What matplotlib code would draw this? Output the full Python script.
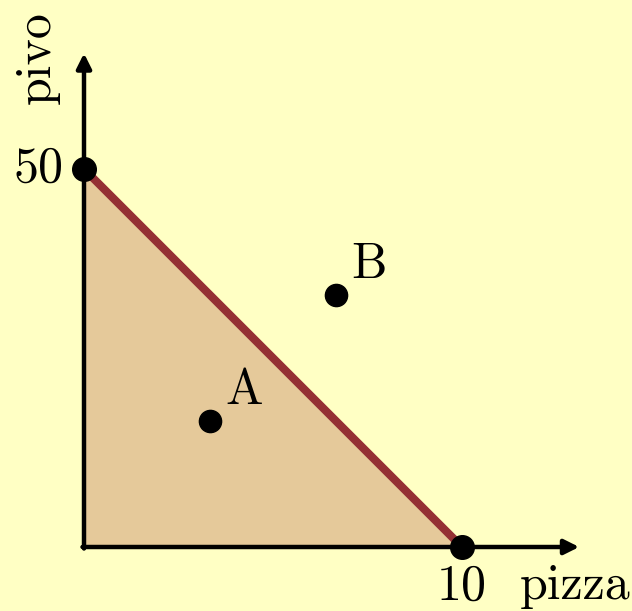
import matplotlib
matplotlib.use("Agg")
import matplotlib.pyplot as plt

# budget constraint data
max_pizza = 10
max_pivo = 50
point_labels = ["A", "B"]
point_x = [10 / 3, 20 / 3]
point_y = [50 / 3, 100 / 3]

bg = "#ffffc4"
fill_col = "#e5c99a"
line_col = "#943034"
font = "cmr10"
fs = 36

fig = plt.figure(figsize=(6.32, 6.11), dpi=100, facecolor=bg)
ax = fig.add_axes([0, 0, 1, 1])
ax.set_facecolor(bg)
ax.set_xlim(-84 / 37.8, (632 - 84) / 37.8)
ax.set_ylim((547 - 611) / 7.56, 547 / 7.56)
ax.axis("off")

# feasible area
ax.fill([0, 0, max_pizza], [0, max_pivo, 0], color=fill_col, zorder=1)

# axes with arrows
ax.annotate("", xy=(13.1, 0), xytext=(-0.04, 0),
            arrowprops=dict(arrowstyle="-|>", lw=3.2, color="black",
                            mutation_scale=22, shrinkA=0, shrinkB=0),
            zorder=3)
ax.annotate("", xy=(0, 65.3), xytext=(0, -0.2),
            arrowprops=dict(arrowstyle="-|>", lw=3.2, color="black",
                            mutation_scale=22, shrinkA=0, shrinkB=0),
            zorder=3)

# budget line
ax.plot([0, max_pizza], [max_pivo, 0], color=line_col, lw=5.8,
        solid_capstyle="butt", zorder=2)

# intercept dots and points
ax.plot([0, max_pizza], [max_pivo, 0], "o", color="black", ms=17, zorder=4)
ax.plot(point_x, point_y, "o", color="black", ms=16, zorder=4)

for lab, x, y in zip(point_labels, point_x, point_y):
    ax.text(x + 0.4, y + 0.9, lab, fontsize=fs, family=font,
            ha="left", va="bottom")

ax.text(-0.55, max_pivo, str(max_pivo), fontsize=fs, family=font,
        ha="right", va="center")
ax.text(max_pizza, -2.2, str(max_pizza), fontsize=fs, family=font,
        ha="center", va="top")
ax.text(14.45, -2.2, "pizza", fontsize=fs, family=font,
        ha="right", va="top")
ax.text(-1.25, 64.7, "pivo", fontsize=fs, family=font, rotation=90,
        ha="center", va="center")

fig.savefig("out.png", dpi=100, facecolor=bg)
